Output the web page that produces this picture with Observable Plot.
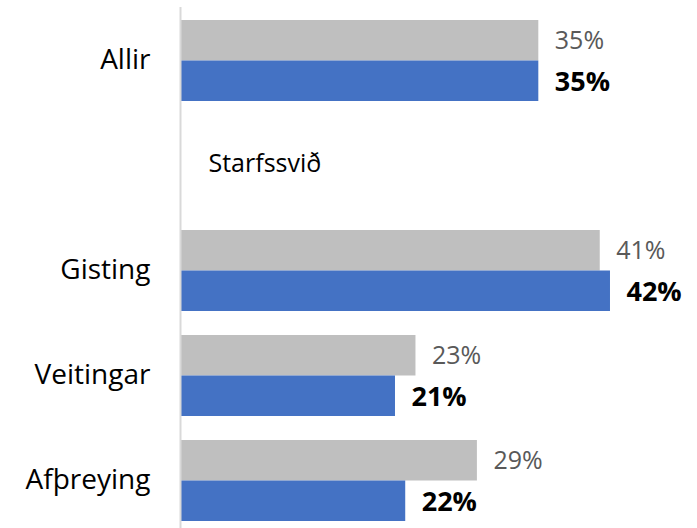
<!DOCTYPE html>
<html>
<head>
<meta charset="utf-8">
<script src="https://cdn.jsdelivr.net/npm/d3@7"></script>
<script src="https://cdn.jsdelivr.net/npm/@observablehq/plot@0.6"></script>
<style>
  html, body { margin: 0; padding: 0; background: #fff; }
  #chart svg { display: block; }
</style>
</head>
<body>
<div id="chart"></div>
<script>
const categories = ["Allir", "Starfssvið", "Gisting", "Veitingar", "Afþreying"];
const previous = [35, null, 41, 23, 29];
const current = [35, null, 42, 21, 22];
const sectionLabels = ["Starfssvið"];

const rows = categories
  .map((c, i) => ({category: c, prev: previous[i], cur: current[i]}))
  .filter(d => d.prev != null);

const chart = Plot.plot({
  width: 697,
  height: 528,
  marginLeft: 180,
  marginRight: 0,
  marginTop: 7,
  marginBottom: 0,
  style: {fontFamily: "'Open Sans', sans-serif", background: "#fff"},
  x: {domain: [0, 50.5], axis: null},
  y: {domain: categories, paddingInner: 0.2293, paddingOuter: 0.093, align: 0.64, axis: null},
  marks: [
    Plot.barX(rows, {x: "prev", y: "category", fill: "#bfbfbf", insetBottom: 40.5}),
    Plot.barX(rows, {x: "cur", y: "category", fill: "#4472c4", insetTop: 40.5}),
    Plot.ruleX([0], {stroke: "#d9d9d9", strokeWidth: 2}),
    Plot.text(rows, {x: "prev", y: "category", text: d => d.prev + "%", dx: 16, dy: -20, textAnchor: "start", fill: "#595959", fontSize: 25}),
    Plot.text(rows, {x: "cur", y: "category", text: d => d.cur + "%", dx: 16, dy: 21, textAnchor: "start", fill: "#000", fontSize: 27, fontWeight: "bold"}),
    Plot.text(sectionLabels, {x: () => 0, y: d => d, text: d => d, dx: 28, dy: -2, textAnchor: "start", fill: "#000", fontSize: 25}),
    Plot.axisY({tickSize: 0, tickPadding: 30, fontSize: 28, label: null, color: "#000", dy: -1,
      tickFormat: d => sectionLabels.includes(d) ? "" : d})
  ]
});
document.getElementById("chart").appendChild(chart);
</script>
</body>
</html>
